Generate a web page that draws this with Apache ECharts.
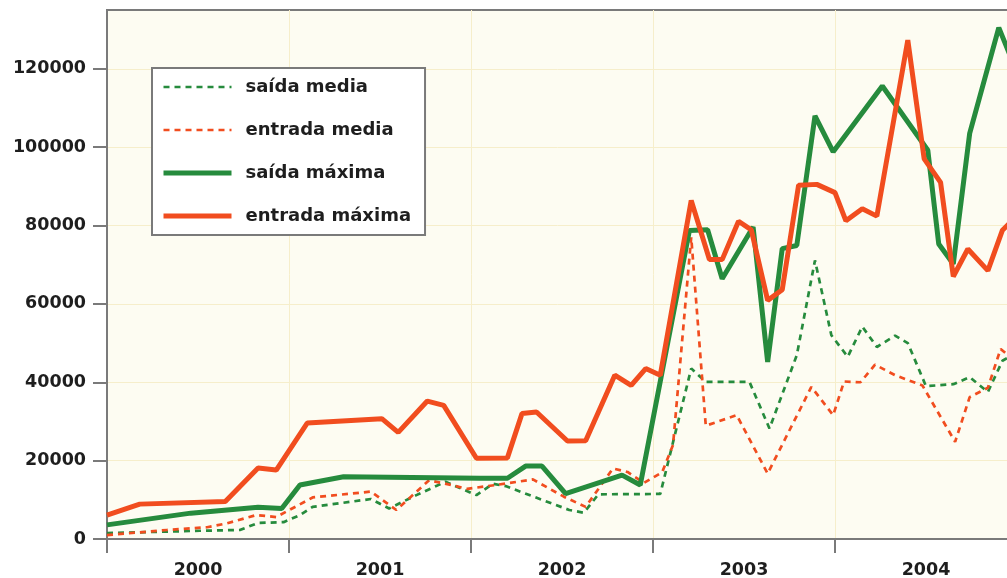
<!DOCTYPE html>
<html>
<head>
<meta charset="utf-8">
<script src="https://cdn.jsdelivr.net/npm/echarts@6/dist/echarts.min.js"></script>
<style>
html,body{margin:0;padding:0;background:#fff}
#grafico{width:1007px;height:578px}
</style>
</head>
<body>
<div id="grafico"></div>
<script>
'use strict';
// anos (eixo x) e marcas do eixo y
var anos = [2000, 2001, 2002, 2003, 2004];
var marcasY = [0, 20000, 40000, 60000, 80000, 100000, 120000];

// [ano decimal, valor]
var saidaMedia = [
	[2000.00,1500],[2000.51,2100],[2000.73,2300],[2000.83,4100],[2000.97,4300],[2001.06,6100],
	[2001.13,8200],[2001.45,10200],[2001.55,7800],[2001.70,11200],[2001.86,14600],[2002.03,11200],
	[2002.12,14100],[2002.19,13500],[2002.54,7400],[2002.62,6700],[2002.70,11400],[2003.04,11500],
	[2003.21,43500],[2003.29,40100],[2003.53,40100],[2003.64,28200],[2003.79,46900],[2003.89,71100],
	[2003.98,52000],[2004.07,46500],[2004.15,54200],[2004.23,49000],[2004.33,51900],[2004.40,50000],
	[2004.50,39000],[2004.65,39500],[2004.74,41300],[2004.84,37500],[2004.92,45500],[2005.00,47500]
];
var entradaMedia = [
	[2000.00,1000],[2000.33,2300],[2000.55,3000],[2000.66,4000],[2000.82,6100],[2000.93,5600],
	[2001.13,10600],[2001.45,12100],[2001.59,7400],[2001.77,15000],[2001.87,14000],[2001.98,12800],
	[2002.14,13800],[2002.34,15200],[2002.51,10800],[2002.63,8200],[2002.78,18000],[2002.86,17100],
	[2002.95,14300],[2003.05,17000],[2003.11,24000],[2003.21,77000],[2003.29,28900],[2003.46,31600],
	[2003.63,16700],[2003.87,38800],[2003.99,31600],[2004.05,40200],[2004.14,40000],[2004.22,44500],
	[2004.33,41800],[2004.48,39200],[2004.66,24800],[2004.74,36200],[2004.84,38600],[2004.91,48500],
	[2005.00,45000]
];
var saidaMaxima = [
	[2000.00,3600],[2000.46,6600],[2000.83,8100],[2000.96,7800],[2001.06,13800],[2001.30,15900],
	[2002.05,15500],[2002.20,15500],[2002.30,18600],[2002.39,18600],[2002.52,11600],[2002.83,16300],
	[2002.93,13800],[2003.20,78700],[2003.30,78900],[2003.38,66400],[2003.55,79600],[2003.63,45200],
	[2003.71,74100],[2003.79,74900],[2003.89,108000],[2003.99,98800],[2004.26,115600],[2004.51,99200],
	[2004.57,75300],[2004.65,70200],[2004.74,103500],[2004.90,130500],[2005.00,119000]
];
var entradaMaxima = [
	[2000.00,6100],[2000.18,8900],[2000.65,9600],[2000.83,18100],[2000.93,17600],[2001.10,29600],
	[2001.51,30700],[2001.60,27200],[2001.76,35200],[2001.85,34100],[2002.03,20600],[2002.20,20700],
	[2002.28,32000],[2002.36,32400],[2002.53,25000],[2002.63,25100],[2002.79,41800],[2002.88,39200],
	[2002.96,43500],[2003.04,41800],[2003.21,86400],[2003.31,71300],[2003.38,71300],[2003.47,81100],
	[2003.54,78900],[2003.63,60900],[2003.71,63600],[2003.80,90300],[2003.90,90500],[2004.00,88400],
	[2004.06,81200],[2004.15,84300],[2004.23,82400],[2004.40,127300],[2004.49,97000],[2004.58,91000],
	[2004.65,67000],[2004.73,74000],[2004.84,68500],[2004.92,78800],[2005.00,82500]
];

var verde = '#268b3d', laranja = '#f14d1f';
var cinza = '#7a7a7a', grade = '#f6eecb';
function fonte(tam){
	return {fontFamily:'DejaVu Sans', fontWeight:'bold', fontSize:tam, color:'#1e1e1e'};
}

function linha(nome, dados, cor, tracejada){
	return {
		name:nome, type:'line', data:dados, symbol:'none',
		lineStyle: tracejada ? {color:cor, width:2.7, type:[6,5]} : {color:cor, width:5},
		itemStyle:{color:cor}
	};
}

var grafico = echarts.init(document.getElementById('grafico'));
grafico.setOption({
	animation:false,
	grid:{left:107, top:10, width:910, bottom:39, outerBoundsMode:'none', show:true,
		backgroundColor:'#fdfcf2', borderColor:cinza, borderWidth:2},
	legend:{
		left:152, top:68, orient:'vertical',
		backgroundColor:'#fff', borderColor:cinza, borderWidth:2,
		padding:[10,14,10,9], itemGap:25, itemWidth:68, itemHeight:17,
		itemStyle:{opacity:0},
		lineStyle:{width:'inherit'},
		textStyle:Object.assign({padding:[0,0,0,9], lineHeight:17}, fonte(18)),
		data:['saída media','entrada media','saída máxima','entrada máxima']
	},
	xAxis:{
		type:'value', min:2000, max:2005, interval:1,
		axisLine:{lineStyle:{color:cinza, width:2}},
		axisTick:{length:14, lineStyle:{color:cinza, width:2}},
		axisLabel:Object.assign({
			margin:22,
			customValues:anos.map(function(a){return a + 0.5;}),
			formatter:function(v){return String(Math.floor(v));}
		}, fonte(17.5)),
		splitLine:{show:true, lineStyle:{color:grade, width:1}}
	},
	yAxis:{
		type:'value', min:0, max:135000, interval:20000,
		axisLine:{show:true, lineStyle:{color:cinza, width:2}},
		axisTick:{show:true, length:14, customValues:marcasY, lineStyle:{color:cinza, width:2}},
		axisLabel:Object.assign({
			margin:21, customValues:marcasY,
			formatter:function(v){return String(v);}
		}, fonte(17.5)),
		splitLine:{show:true, lineStyle:{color:grade, width:1}}
	},
	series:[
		linha('saída media', saidaMedia, verde, true),
		linha('entrada media', entradaMedia, laranja, true),
		linha('saída máxima', saidaMaxima, verde, false),
		linha('entrada máxima', entradaMaxima, laranja, false)
	]
});
</script>
</body>
</html>
